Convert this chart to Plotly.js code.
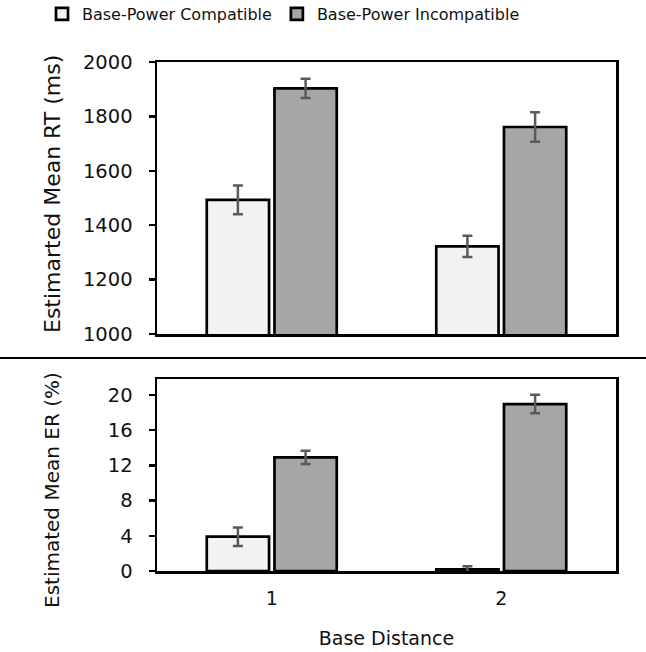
<!DOCTYPE html>
<html>
<head>
<meta charset="utf-8">
<script src="https://cdn.plot.ly/plotly-3.0.1.min.js"></script>
<style>
  html, body { margin: 0; padding: 0; background: #fff; }
  #chart { width: 646px; height: 652px; }
</style>
</head>
<body>
<div id="chart"></div>
<script>
// Conditions on the x axis
const distances = ['1', '2'];

// Series names
const seriesNames = ['Base-Power Compatible', 'Base-Power Incompatible'];

// Estimated mean response time (ms) and its error
const rtCompatible = [1493, 1322];
const rtCompatibleErr = [53, 39];
const rtIncompatible = [1903, 1761];
const rtIncompatibleErr = [35, 54];

// Estimated mean error rate (%) and its error
const erCompatible = [3.9, 0.2];
const erCompatibleErr = [1.05, 0.35];
const erIncompatible = [12.9, 18.95];
const erIncompatibleErr = [0.75, 1.05];

// Axis ticks
const rtTicks = [1000, 1200, 1400, 1600, 1800, 2000];
const erTicks = [0, 4, 8, 12, 16, 20];

const FONT = 'DejaVu Sans';
const lightFill = '#f2f2f2';
const darkFill = '#a6a6a6';
const errColor = '#5a5a5a';

function barTrace(name, x, y, err, fill, xa, ya, showLegend) {
  return {
    type: 'bar',
    name: name,
    x: x,
    y: y,
    xaxis: xa,
    yaxis: ya,
    showlegend: showLegend,
    legendgroup: name,
    marker: { color: fill, line: { color: '#000', width: 2.7 } },
    error_y: { type: 'data', array: err, visible: true, color: errColor, thickness: 2.5, width: 5 },
    hoverinfo: 'skip'
  };
}

const data = [
  barTrace(seriesNames[0], distances, rtCompatible, rtCompatibleErr, lightFill, 'x', 'y', true),
  barTrace(seriesNames[1], distances, rtIncompatible, rtIncompatibleErr, darkFill, 'x', 'y', true),
  barTrace(seriesNames[0], distances, erCompatible, erCompatibleErr, lightFill, 'x2', 'y2', false),
  barTrace(seriesNames[1], distances, erIncompatible, erIncompatibleErr, darkFill, 'x2', 'y2', false)
];

const W = 646, H = 652;
const px = v => v / W;
const py = v => 1 - v / H;

const baseX = {
  type: 'category',
  domain: [px(157), px(616)],
  range: [-0.5, 1.5],
  showline: true,
  linecolor: '#000',
  linewidth: 2.5,
  mirror: true,
  ticks: '',
  showgrid: false,
  zeroline: false,
  tickfont: { family: FONT, size: 19, color: '#111' },
  fixedrange: true
};

const baseY = {
  showline: true,
  linecolor: '#000',
  linewidth: 2.5,
  mirror: true,
  ticks: 'outside',
  ticklen: 6,
  tickwidth: 2.5,
  tickcolor: '#000',
  showgrid: false,
  zeroline: false,
  tickmode: 'array',
  ticklabelstandoff: 12,
  tickfont: { family: FONT, size: 19.5, color: '#111' },
  fixedrange: true
};

const layout = {
  width: W,
  height: H,
  margin: { l: 0, r: 0, t: 0, b: 0, autoexpand: false },
  paper_bgcolor: '#fff',
  plot_bgcolor: '#fff',
  font: { family: FONT, color: '#111' },
  barmode: 'group',
  bargap: 0.41,
  bargroupgap: 0.08,
  showlegend: true,
  legend: {
    orientation: 'h',
    x: px(42),
    xanchor: 'left',
    y: 1 + 3 / H,
    yanchor: 'top',
    font: { family: FONT, size: 16, color: '#111' },
    traceorder: 'normal',
    itemwidth: 30,
    bgcolor: 'rgba(0,0,0,0)'
  },
  xaxis: Object.assign({}, baseX, {
    anchor: 'y',
    showticklabels: false
  }),
  yaxis: Object.assign({}, baseY, {
    anchor: 'x',
    domain: [py(334), py(62)],
    range: [1000, 2000],
    tickvals: rtTicks
  }),
  xaxis2: Object.assign({}, baseX, {
    anchor: 'y2',
    showticklabels: true,
    ticklabelstandoff: 9,
    title: { text: 'Base Distance', font: { family: FONT, size: 19, color: '#111' }, standoff: 24 }
  }),
  yaxis2: Object.assign({}, baseY, {
    anchor: 'x2',
    domain: [py(571), py(379)],
    range: [0, 21.8],
    tickvals: erTicks
  }),
  shapes: [
    {
      type: 'line', xref: 'paper', yref: 'paper',
      x0: 0, x1: 1, y0: py(358), y1: py(358),
      line: { color: '#000', width: 2 }
    }
  ],
  annotations: [
    {
      text: 'Estimarted Mean RT (ms)', textangle: -90,
      xref: 'paper', yref: 'paper', x: px(52), y: py(194),
      xanchor: 'center', yanchor: 'middle', showarrow: false,
      font: { family: FONT, size: 22, color: '#111' }
    },
    {
      text: 'Estimated Mean ER (%)', textangle: -90,
      xref: 'paper', yref: 'paper', x: px(52), y: py(490),
      xanchor: 'center', yanchor: 'middle', showarrow: false,
      font: { family: FONT, size: 20, color: '#111' }
    }
  ]
};

Plotly.newPlot('chart', data, layout, { staticPlot: true, displayModeBar: false });
</script>
</body>
</html>
